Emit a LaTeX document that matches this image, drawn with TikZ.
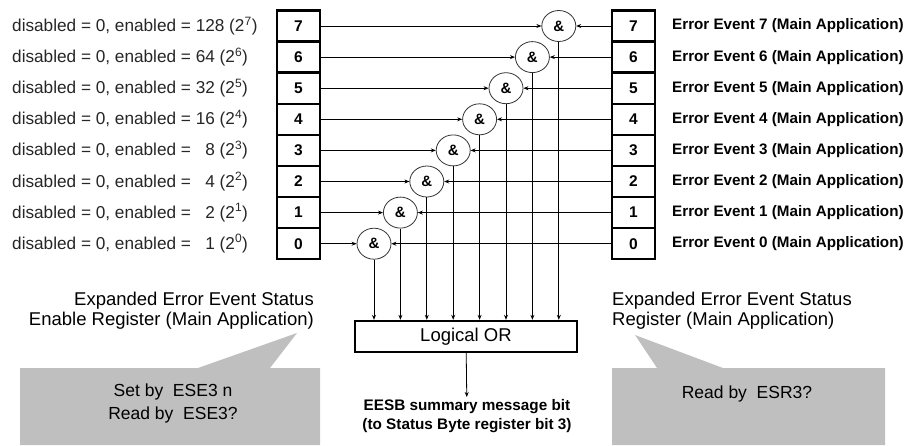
\documentclass[tikz,border=0pt]{standalone}
\usepackage{fontspec}
\setmainfont{Liberation Sans}
\usetikzlibrary{arrows.meta,shapes.geometric,calc}

\begin{document}
\begin{tikzpicture}[x=1pt,y=-1pt,
    >={Stealth[length=5pt,width=4pt]},
    cell/.style={draw,line width=2.4pt,minimum width=43pt,minimum height=31.1pt,inner sep=0pt,font=\bfseries\fontsize{15.5}{15}\selectfont},
    gate/.style={draw=black!80,ellipse,line width=.8pt,minimum width=34pt,minimum height=31pt,inner sep=0pt,font=\bfseries\fontsize{15}{15}\selectfont},
    enlbl/.style={anchor=west,inner sep=0pt,text=black!85,font=\fontsize{17.2}{17}\selectfont},
    evlbl/.style={anchor=west,inner sep=0pt,font=\bfseries\fontsize{15.2}{15}\selectfont},
    reglbl/.style={inner sep=0pt,font=\fontsize{18.5}{20}\selectfont},
    note/.style={inner sep=0pt,font=\fontsize{17.5}{23}\selectfont},
    callout/.style={fill=black!25,draw=none}]
    \useasboundingbox (0,0) rectangle (918,445);
    \foreach \i/\v in {7/128,6/64,5/32,4/16,3/\phantom{0}8,2/\phantom{0}4,1/\phantom{0}2,0/\phantom{0}1}{
        \node[cell] (en\i) at (298.5,{26+31.1*(7-\i)}) {\i};
        \node[cell] (ev\i) at (633.5,{26+31.1*(7-\i)}) {\i};
        \node[gate] (and\i) at ({374+26.4*\i},{26+31.1*(7-\i)}) {\&};
        \node[enlbl] (enl\i) at (12,{26+31.1*(7-\i)}) {disabled = 0, enabled = \v{} (2\textsuperscript{\i})};
        \node[evlbl] (evl\i) at (672,{26+31.1*(7-\i)}) {Error Event \i{} (Main Application)};
    }
    \node[draw,line width=2.4pt,minimum width=222pt,minimum height=31pt,font=\fontsize{18.5}{18}\selectfont] (lor) at (466,336.5) {Logical OR};
    \foreach \i in {0,...,7}{
        \draw[->,line width=.8pt] (en\i) -- (and\i);
        \draw[->,line width=.8pt] (ev\i) -- (and\i);
        \draw[->,line width=.8pt] (and\i) -- (and\i |- lor.north);
    }
    \node[inner sep=2pt,anchor=north,align=center,font=\bfseries\fontsize{15.3}{19}\selectfont] (eesb) at (467,397) {EESB summary message bit\\(to Status Byte register bit 3)};
    \draw[->,line width=.8pt] (lor) -- (eesb);
    \node[reglbl,align=right,anchor=east] (enreg) at (314,311) {Expanded Error Event Status\\Enable Register (Main Application)};
    \node[reglbl,align=left,anchor=west] (evreg) at (612,311) {Expanded Error Event Status\\Register (Main Application)};
    \fill[callout] (20,368) -- (198,368) -- (297,333) -- (270,368) -- (320,368) -- (320,445) -- (20,445) -- cycle;
    \fill[callout] (612,368) -- (657,368) -- (635,335) -- (723,368) -- (885,368) -- (885,445) -- (612,445) -- cycle;
    \node[note,align=center] (ese) at (173,403.5) {Set by\ \ ESE3 n\\Read by\ \ ESE3?};
    \node[note] (esr) at (747,394) {Read by\ \ ESR3?};
\end{tikzpicture}
\end{document}
